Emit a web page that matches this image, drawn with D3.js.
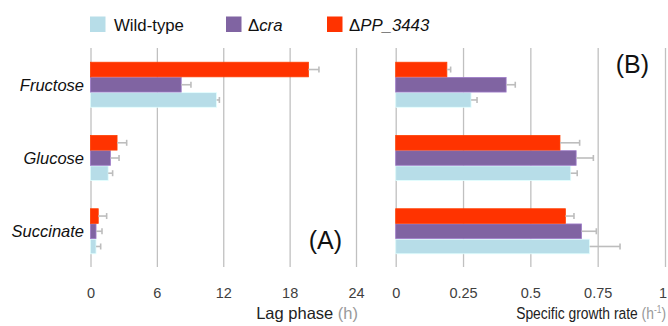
<!DOCTYPE html>
<html>
<head>
<meta charset="utf-8">
<script src="https://cdn.jsdelivr.net/npm/d3@7"></script>
<style>
  body { margin: 0; background: #fff; }
  text { font-family: "Liberation Sans", Arial, sans-serif; }
</style>
</head>
<body>
<script>
const width = 668;
const height = 326;

// carbon sources, top to bottom
const categories = ['Fructose', 'Glucose', 'Succinate'];
const strains = ['Wild-type', 'Δcra', 'ΔPP_3443'];
const colors = ['#b7dde8', '#8064a2', '#ff3300'];

// lag phase (h)
const lagWT = [11.4, 1.6, 0.5];
const lagWTErr = [0.25, 0.4, 0.42];
const lagCra = [8.2, 1.8, 0.5];
const lagCraErr = [0.88, 0.78, 0.54];
const lagPP = [19.7, 2.4, 0.7];
const lagPPErr = [0.95, 0.87, 0.76];

// specific growth rate (h-1)
const rateWT = [0.28, 0.65, 0.72];
const rateWTErr = [0.022, 0.024, 0.113];
const rateCra = [0.41, 0.67, 0.69];
const rateCraErr = [0.034, 0.064, 0.055];
const ratePP = [0.19, 0.61, 0.63];
const ratePPErr = [0.014, 0.073, 0.032];

const lagTicks = [0, 6, 12, 18, 24];
const rateTicks = [0, 0.25, 0.5, 0.75, 1];

const svg = d3.select('body')
    .append('svg')
    .attr('width', width)
    .attr('height', height);

const gridTop = 48;
const gridBottom = 267;

const y = d3.scaleBand()
    .domain(categories)
    .range([48, 268])
    .paddingInner(0.377)
    .paddingOuter(0.19);

// red on top, wild-type at the bottom
const ySub = d3.scaleBand()
    .domain(['ΔPP_3443', 'Δcra', 'Wild-type'])
    .range([0, y.bandwidth()]);

const colorOf = d3.scaleOrdinal().domain(strains).range(colors);

const buildRows = (vals, errs) => {
    const rows = [];
    categories.forEach((c, i) => {
        strains.forEach((s, j) => {
            rows.push({ cat: c, strain: s, v: vals[j][i], e: errs[j][i] });
        });
    });
    return rows;
};

const lagRows = buildRows([lagWT, lagCra, lagPP], [lagWTErr, lagCraErr, lagPPErr]);
const rateRows = buildRows([rateWT, rateCra, ratePP], [rateWTErr, rateCraErr, ratePPErr]);

const drawPanel = (rows, x, ticks) => {
    const g = svg.append('g');

    // gridlines + tick labels
    const axis = d3.axisBottom(x)
        .tickValues(ticks)
        .tickFormat(d => d)
        .tickSize(-(gridBottom - gridTop))
        .tickPadding(20.5);
    const ax = g.append('g')
        .attr('transform', `translate(0,${gridBottom})`)
        .call(axis);
    ax.select('.domain').remove();
    ax.selectAll('line').attr('stroke', '#c0c0c0').attr('stroke-width', 1.3);
    ax.selectAll('text')
        .attr('fill', '#404040')
        .style('font-size', '14.5px')
        .style('font-family', '"Liberation Sans", Arial, sans-serif');
    return ax;
};

const drawBars = (rows, x) => {
    const bars = svg.append('g')
        .selectAll('g')
        .data(rows)
        .enter()
        .append('g')
        .attr('transform', d => `translate(0,${y(d.cat) + ySub(d.strain)})`);

    bars.append('rect')
        .attr('x', x(0))
        .attr('y', 0.3)
        .attr('width', d => x(d.v) - x(0))
        .attr('height', ySub.bandwidth() - 0.6)
        .attr('fill', d => colorOf(d.strain))
        .attr('stroke', d => d3.color(colorOf(d.strain)).brighter(0.6))
        .attr('stroke-width', 0.8);

    const mid = ySub.bandwidth() / 2;
    bars.append('line')
        .attr('x1', d => x(d.v))
        .attr('x2', d => x(d.v + d.e))
        .attr('y1', mid)
        .attr('y2', mid)
        .attr('stroke', '#bdbdbd')
        .attr('stroke-width', 1.6);
    bars.append('line')
        .attr('x1', d => x(d.v + d.e))
        .attr('x2', d => x(d.v + d.e))
        .attr('y1', mid - 3)
        .attr('y2', mid + 3)
        .attr('stroke', '#bdbdbd')
        .attr('stroke-width', 1.6);
};

const xLag = d3.scaleLinear().domain([0, 24]).range([90.5, 356]);
const xRate = d3.scaleLinear().domain([0, 1]).range([395.7, 665]);

drawPanel(lagRows, xLag, lagTicks);
const rateAxis = drawPanel(rateRows, xRate, rateTicks);
// keep the last label inside the picture
rateAxis.selectAll('.tick text').filter(d => d === 1).attr('dx', -2.5);

drawBars(lagRows, xLag);
drawBars(rateRows, xRate);

// category labels
svg.append('g')
    .selectAll('text')
    .data(categories)
    .enter()
    .append('text')
    .attr('x', 84)
    .attr('y', d => y(d) + y.bandwidth() / 2 + 6)
    .attr('text-anchor', 'end')
    .style('font-size', '16.5px')
    .style('font-style', 'italic')
    .attr('fill', '#111')
    .text(d => d);

// panel letters
svg.append('text')
    .attr('x', 342).attr('y', 249)
    .attr('text-anchor', 'end')
    .style('font-size', '25px')
    .attr('fill', '#111')
    .text('(A)');
svg.append('text')
    .attr('x', 649).attr('y', 73)
    .attr('text-anchor', 'end')
    .style('font-size', '25px')
    .attr('fill', '#111')
    .text('(B)');

// axis titles
const t1 = svg.append('text')
    .attr('x', 358).attr('y', 319)
    .attr('text-anchor', 'end')
    .style('font-size', '16.5px')
    .attr('fill', '#222');
t1.append('tspan').text('Lag phase ');
t1.append('tspan').attr('fill', '#999').text('(h)');

const t2 = svg.append('text')
    .attr('transform', 'translate(666,319) scale(0.84,1)')
    .attr('text-anchor', 'end')
    .style('font-size', '16.5px')
    .attr('fill', '#222');
t2.append('tspan').text('Specific growth rate ');
t2.append('tspan').attr('fill', '#999').text('(h');
t2.append('tspan').attr('fill', '#999').style('font-size', '10px').attr('dy', -6).text('-1');
t2.append('tspan').attr('fill', '#999').attr('dy', 6).text(')');

// legend
const legendX = [90, 226, 327];
const legendItems = svg.append('g')
    .selectAll('g')
    .data(strains)
    .enter()
    .append('g')
    .attr('transform', (d, i) => `translate(${legendX[i]},16.5)`);

legendItems.append('rect')
    .attr('width', 15.5)
    .attr('height', 15.5)
    .attr('fill', d => colorOf(d));

legendItems.append('text')
    .attr('x', d => d === 'Wild-type' ? 24 : 22)
    .attr('y', 14.5)
    .style('font-size', '16.8px')
    .attr('fill', '#111')
    .each(function (d) {
        const t = d3.select(this);
        if (d.startsWith('Δ')) {
            t.append('tspan').text('Δ');
            t.append('tspan').style('font-style', 'italic').text(d.slice(1));
        } else {
            t.text(d);
        }
    });
</script>
</body>
</html>
